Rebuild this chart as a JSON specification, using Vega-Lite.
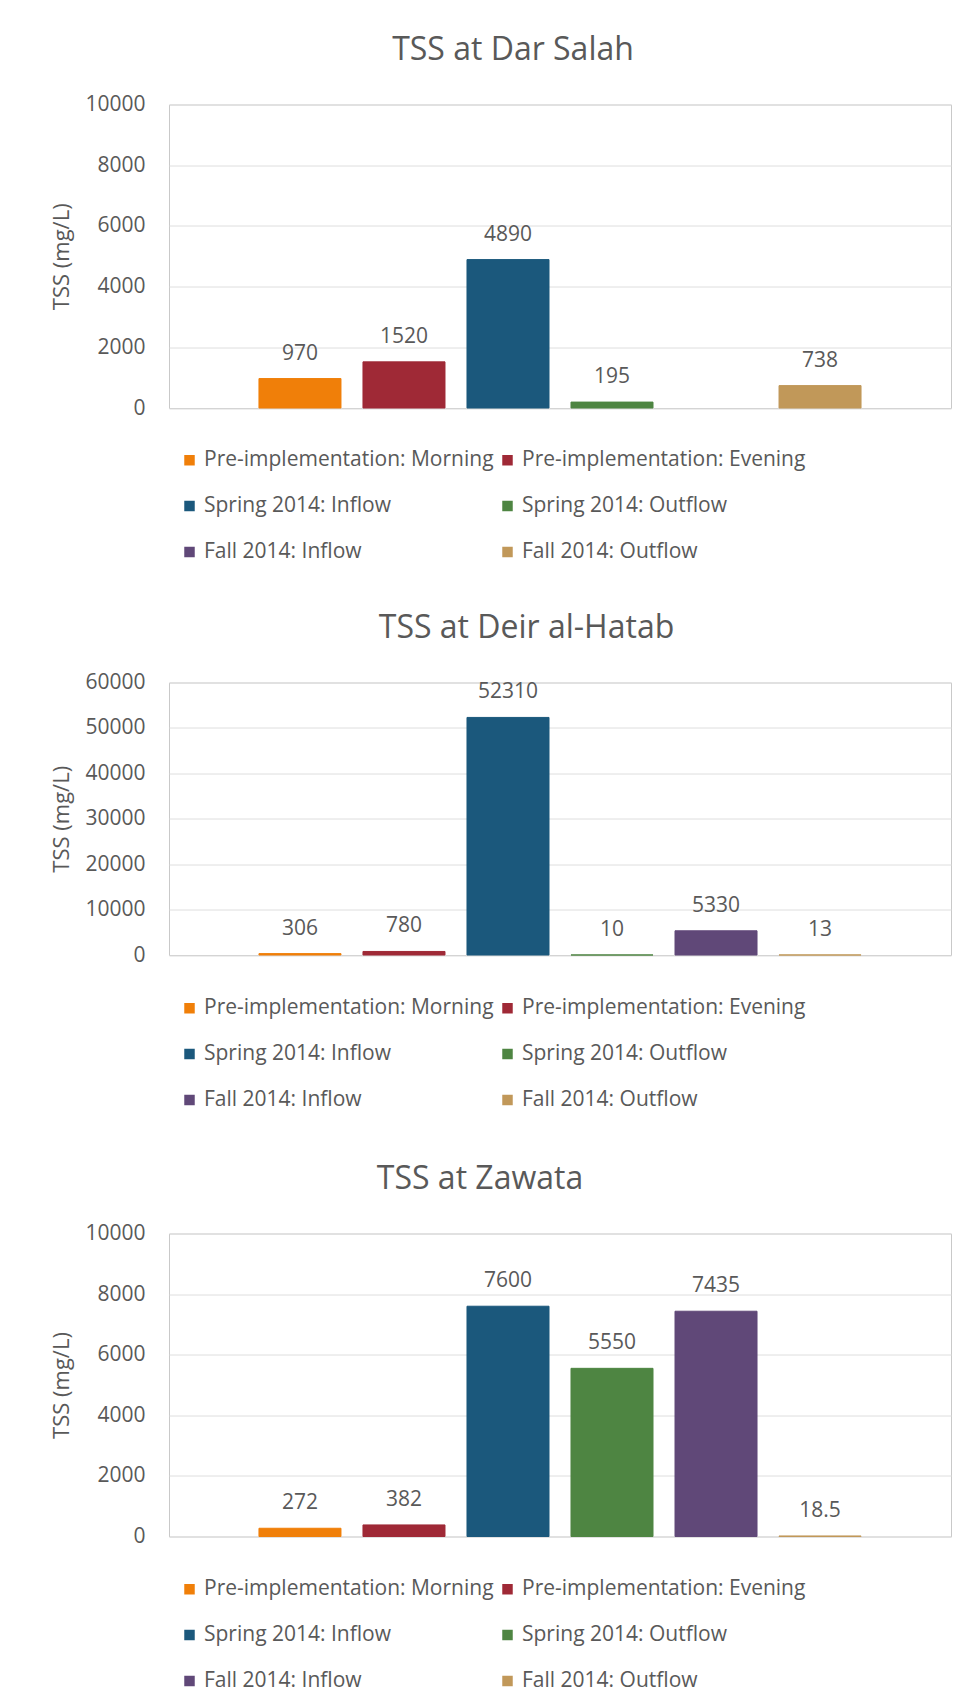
{
  "$schema": "https://vega.github.io/schema/vega-lite/v6.json",
  "background": "white",
  "padding": {"left": 50, "top": 32.5, "right": 19, "bottom": 10},
  "bounds": "flush",
  "spacing": 274,
  "config": {
    "font": "Open Sans",
    "view": {"stroke": "#C9C9C9", "strokeWidth": 1},
    "axis": {
      "labelFont": "Open Sans", "labelFontSize": 21, "labelColor": "#595959",
      "titleFont": "Open Sans", "titleFontSize": 22, "titleFontWeight": "normal", "titleColor": "#595959",
      "gridColor": "#DEDEDE", "domain": false, "ticks": false,
      "labelPadding": 24, "titlePadding": 16
    },
    "title": {"font": "Open Sans", "fontSize": 32, "fontWeight": "normal", "color": "#595959", "anchor": "middle", "offset": 27},
    "legend": {
      "orient": "none", "legendX": 10, "columns": 2, "title": null,
      "symbolType": "square", "symbolSize": 110, "symbolStrokeWidth": 0,
      "labelFont": "Open Sans", "labelFontSize": 21, "labelColor": "#595959",
      "labelOffset": 4, "rowPadding": 24, "columnPadding": 3, "labelLimit": 500
    }
  },
  "resolve": {"scale": {"color": "independent", "stroke": "independent"}, "legend": {"color": "independent"}},
  "vconcat": [
    {
      "width": 782, "height": 303.5,
      "title": {"text": "TSS at Dar Salah", "dx": -47},
      "data": {"values": [
        {"period": "Pre-implementation: Morning", "tss": 970},
        {"period": "Pre-implementation: Evening", "tss": 1520},
        {"period": "Spring 2014: Inflow", "tss": 4890},
        {"period": "Spring 2014: Outflow", "tss": 195},
        {"period": "Fall 2014: Outflow", "tss": 738}
      ]},
      "encoding": {
        "x": {"field": "period", "type": "nominal", "axis": null,
          "scale": {"domain": ["Pre-implementation: Morning", "Pre-implementation: Evening", "Spring 2014: Inflow", "Spring 2014: Outflow", "Fall 2014: Inflow", "Fall 2014: Outflow"], "paddingInner": 0.2115, "paddingOuter": 0.865}},
        "y": {"field": "tss", "type": "quantitative",
          "scale": {"domain": [0, 10000], "nice": false},
          "axis": {"title": "TSS (mg/L)", "values": [0, 2000, 4000, 6000, 8000, 10000], "format": "d", "titleBaseline": "alphabetic"}}
      },
      "layer": [
        {"mark": {"type": "bar", "strokeWidth": 1},
         "encoding": {
           "color": {"field": "period", "type": "nominal",
             "scale": {"domain": ["Pre-implementation: Morning", "Spring 2014: Inflow", "Fall 2014: Inflow", "Pre-implementation: Evening", "Spring 2014: Outflow", "Fall 2014: Outflow"], "range": ["#F07F09", "#1B587C", "#604878", "#9F2936", "#4E8542", "#C19859"]},
             "legend": {"legendY": 345}},
           "stroke": {"field": "period", "type": "nominal", "legend": null,
             "scale": {"domain": ["Pre-implementation: Morning", "Spring 2014: Inflow", "Fall 2014: Inflow", "Pre-implementation: Evening", "Spring 2014: Outflow", "Fall 2014: Outflow"], "range": ["#F07F09", "#1B587C", "#604878", "#9F2936", "#4E8542", "#C19859"]}}
         }},
        {"mark": {"type": "text", "dy": -19, "baseline": "alphabetic", "fontSize": 21, "color": "#595959"},
         "encoding": {"text": {"field": "tss", "type": "nominal"}}}
      ]
    },
    {
      "bounds": "flush",
      "spacing": 278,
      "resolve": {"scale": {"color": "independent", "stroke": "independent"}, "legend": {"color": "independent"}},
      "vconcat": [
        {
          "width": 782, "height": 272.5,
          "title": {"text": "TSS at Deir al-Hatab", "dx": -33.5},
          "data": {"values": [
            {"period": "Pre-implementation: Morning", "tss": 306},
            {"period": "Pre-implementation: Evening", "tss": 780},
            {"period": "Spring 2014: Inflow", "tss": 52310},
            {"period": "Spring 2014: Outflow", "tss": 10},
            {"period": "Fall 2014: Inflow", "tss": 5330},
            {"period": "Fall 2014: Outflow", "tss": 13}
          ]},
          "encoding": {
            "x": {"field": "period", "type": "nominal", "axis": null,
              "scale": {"domain": ["Pre-implementation: Morning", "Pre-implementation: Evening", "Spring 2014: Inflow", "Spring 2014: Outflow", "Fall 2014: Inflow", "Fall 2014: Outflow"], "paddingInner": 0.2115, "paddingOuter": 0.865}},
            "y": {"field": "tss", "type": "quantitative",
              "scale": {"domain": [0, 60000], "nice": false},
              "axis": {"title": "TSS (mg/L)", "values": [0, 10000, 20000, 30000, 40000, 50000, 60000], "format": "d", "titleBaseline": "alphabetic"}}
          },
          "layer": [
            {"mark": {"type": "bar", "strokeWidth": 1},
             "encoding": {
               "color": {"field": "period", "type": "nominal",
                 "scale": {"domain": ["Pre-implementation: Morning", "Spring 2014: Inflow", "Fall 2014: Inflow", "Pre-implementation: Evening", "Spring 2014: Outflow", "Fall 2014: Outflow"], "range": ["#F07F09", "#1B587C", "#604878", "#9F2936", "#4E8542", "#C19859"]},
                 "legend": {"legendY": 315}},
               "stroke": {"field": "period", "type": "nominal", "legend": null,
                 "scale": {"domain": ["Pre-implementation: Morning", "Spring 2014: Inflow", "Fall 2014: Inflow", "Pre-implementation: Evening", "Spring 2014: Outflow", "Fall 2014: Outflow"], "range": ["#F07F09", "#1B587C", "#604878", "#9F2936", "#4E8542", "#C19859"]}}
             }},
            {"mark": {"type": "text", "dy": -19, "baseline": "alphabetic", "fontSize": 21, "color": "#595959"},
             "encoding": {"text": {"field": "tss", "type": "nominal"}}}
          ]
        },
        {
          "width": 782, "height": 303,
          "title": {"text": "TSS at Zawata", "dx": -80},
          "data": {"values": [
            {"period": "Pre-implementation: Morning", "tss": 272},
            {"period": "Pre-implementation: Evening", "tss": 382},
            {"period": "Spring 2014: Inflow", "tss": 7600},
            {"period": "Spring 2014: Outflow", "tss": 5550},
            {"period": "Fall 2014: Inflow", "tss": 7435},
            {"period": "Fall 2014: Outflow", "tss": 18.5}
          ]},
          "encoding": {
            "x": {"field": "period", "type": "nominal", "axis": null,
              "scale": {"domain": ["Pre-implementation: Morning", "Pre-implementation: Evening", "Spring 2014: Inflow", "Spring 2014: Outflow", "Fall 2014: Inflow", "Fall 2014: Outflow"], "paddingInner": 0.2115, "paddingOuter": 0.865}},
            "y": {"field": "tss", "type": "quantitative",
              "scale": {"domain": [0, 10000], "nice": false},
              "axis": {"title": "TSS (mg/L)", "values": [0, 2000, 4000, 6000, 8000, 10000], "format": "d", "titleBaseline": "alphabetic"}}
          },
          "layer": [
            {"mark": {"type": "bar", "strokeWidth": 1},
             "encoding": {
               "color": {"field": "period", "type": "nominal",
                 "scale": {"domain": ["Pre-implementation: Morning", "Spring 2014: Inflow", "Fall 2014: Inflow", "Pre-implementation: Evening", "Spring 2014: Outflow", "Fall 2014: Outflow"], "range": ["#F07F09", "#1B587C", "#604878", "#9F2936", "#4E8542", "#C19859"]},
                 "legend": {"legendY": 345}},
               "stroke": {"field": "period", "type": "nominal", "legend": null,
                 "scale": {"domain": ["Pre-implementation: Morning", "Spring 2014: Inflow", "Fall 2014: Inflow", "Pre-implementation: Evening", "Spring 2014: Outflow", "Fall 2014: Outflow"], "range": ["#F07F09", "#1B587C", "#604878", "#9F2936", "#4E8542", "#C19859"]}}
             }},
            {"mark": {"type": "text", "dy": -19, "baseline": "alphabetic", "fontSize": 21, "color": "#595959"},
             "encoding": {"text": {"field": "tss", "type": "nominal"}}}
          ]
        }
      ]
    }
  ]
}
